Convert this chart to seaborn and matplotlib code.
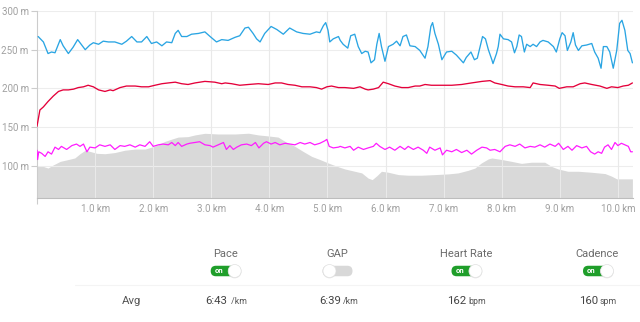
import matplotlib
matplotlib.use("Agg")
import matplotlib.pyplot as plt
import seaborn as sns
import pandas as pd
from matplotlib.patches import FancyBboxPatch, Circle

# ---------------- data ----------------
pace_km = [0.02, 0.11, 0.19, 0.25, 0.31, 0.40, 0.45, 0.54, 0.62, 0.70, 0.77, 0.83, 0.91, 0.97,
           1.06, 1.14, 1.23, 1.34, 1.46, 1.54, 1.63, 1.72, 1.80, 1.89, 1.97, 2.06, 2.15, 2.23,
           2.32, 2.38, 2.43, 2.49, 2.58,
           2.66, 2.78, 2.89, 2.98, 3.09, 3.18, 3.29, 3.41, 3.49, 3.58, 3.64, 3.72, 3.78, 3.84,
           3.92, 4.03, 4.13, 4.24, 4.35, 4.47, 4.58, 4.70, 4.81, 4.87, 4.93, 4.97, 5.01, 5.04,
           5.10, 5.19,
           5.22, 5.27, 5.35, 5.40, 5.47, 5.53, 5.59, 5.65, 5.70, 5.75, 5.81, 5.85, 5.89, 5.93,
           5.99, 6.05, 6.13, 6.19, 6.25, 6.30, 6.36, 6.42, 6.51, 6.59, 6.68, 6.73, 6.78, 6.81,
           6.85, 6.91, 6.97, 7.05, 7.14, 7.22, 7.34, 7.39, 7.47, 7.53, 7.58, 7.67, 7.72,
           7.77, 7.83, 7.85, 7.91, 7.94, 7.97, 8.03, 8.11, 8.17, 8.22, 8.26, 8.30, 8.34, 8.39,
           8.43, 8.49, 8.54, 8.60, 8.66, 8.71, 8.80, 8.89, 8.94, 9.00, 9.04, 9.09, 9.13, 9.19,
           9.23, 9.27, 9.32, 9.38, 9.46, 9.55, 9.60, 9.66, 9.71, 9.75, 9.81, 9.86, 9.92, 9.98,
           10.03, 10.07, 10.12, 10.17, 10.21, 10.25]
pace_val = [267, 260, 245, 247, 246, 263, 255, 245, 253, 263, 256, 250, 256, 259,
            257, 261, 260, 260, 257, 261, 267, 260, 260, 267, 258, 260, 255, 260,
            259, 271, 275, 267, 267,
            270, 271, 273, 267, 260, 263, 262, 266, 268, 278, 279, 271, 264, 260,
            271, 280, 276, 270, 278, 273, 271, 270, 273, 272, 281, 285, 275, 260,
            264, 267,
            262, 257, 252, 268, 270, 254, 245, 248, 247, 233, 237, 257, 271, 254,
            235, 254, 257, 261, 255, 267, 269, 255, 254, 249, 239, 254, 280, 285,
            271, 257, 237, 247, 248, 243, 233, 240, 247, 237, 239, 267, 264,
            250, 237, 232, 245, 254, 270, 264, 263, 260, 246, 254, 269, 267, 247,
            257, 254, 257, 254, 260, 262, 260, 254, 247, 264, 272, 268, 249, 260,
            272, 256, 249, 255, 256, 258, 247, 239, 226, 254, 254, 247, 226, 249,
            284, 288, 275, 249, 245, 233]

hr_km = [0.0, 0.05, 0.11, 0.19, 0.28, 0.37, 0.45, 0.54, 0.63, 0.71, 0.80, 0.88, 0.97, 1.06,
         1.17, 1.26, 1.31, 1.43, 1.54, 1.69, 1.80, 1.92, 2.03, 2.15, 2.26, 2.38, 2.49, 2.60,
         2.72, 2.89, 3.06, 3.18, 3.24, 3.35, 3.49, 3.64, 3.81, 3.98, 4.10, 4.21, 4.32, 4.44,
         4.56, 4.70, 4.81, 4.90, 4.99, 5.07, 5.19,
         5.30, 5.45, 5.56, 5.65, 5.70, 5.79, 5.88, 5.96, 6.05, 6.16, 6.28, 6.39, 6.51, 6.59,
         6.68, 6.79, 6.96, 7.14, 7.31, 7.48, 7.66,
         7.80, 7.88, 8.00, 8.11, 8.23, 8.37, 8.49, 8.54, 8.66, 8.80, 8.92, 8.99, 9.12, 9.23,
         9.35, 9.43, 9.55, 9.69, 9.81, 9.89, 10.00, 10.09, 10.18, 10.25]
hr_val = [151, 172, 176, 183, 190, 196, 198, 198, 199, 201, 202, 204, 202, 198,
          196, 198, 197, 201, 203, 203, 202, 202, 204, 206, 207, 208, 206, 205,
          207, 209, 208, 206, 207, 206, 204, 205, 206, 205, 207, 207, 205, 204,
          202, 202, 201, 199, 202, 203, 201,
          201, 200, 202, 199, 198, 199, 201, 208, 206, 203, 201, 201, 203, 203,
          205, 204, 204, 204, 205, 207, 209,
          210, 207, 205, 203, 202, 202, 201, 207, 205, 204, 203, 200, 202, 202,
          206, 207, 205, 203, 200, 202, 201, 203, 204, 207]

cad_km = [0.0, 0.01, 0.03, 0.08, 0.14, 0.19, 0.25, 0.31, 0.37, 0.42, 0.51, 0.60, 0.68, 0.74,
          0.80, 0.86, 0.91, 1.00, 1.08, 1.17, 1.26, 1.34, 1.43, 1.51, 1.60, 1.69, 1.77,
          1.86, 1.94, 2.00, 2.09, 2.17, 2.26, 2.32, 2.38, 2.43, 2.49, 2.58,
          2.63, 2.72, 2.80, 2.89, 2.98, 3.03, 3.12, 3.21, 3.26, 3.32, 3.38, 3.44, 3.52,
          3.61, 3.69, 3.76, 3.82, 3.90, 3.95, 4.03, 4.10, 4.18, 4.27, 4.35, 4.44, 4.53,
          4.61, 4.70, 4.78, 4.87, 4.95, 4.99, 5.03, 5.10, 5.19,
          5.22, 5.30, 5.39, 5.45, 5.53, 5.62, 5.70, 5.79, 5.84, 5.90, 5.99, 6.07, 6.16,
          6.25, 6.33, 6.39, 6.48, 6.56, 6.65, 6.71, 6.76, 6.85, 6.94, 6.98, 7.05, 7.14,
          7.22, 7.31, 7.40, 7.48, 7.57, 7.66, 7.74,
          7.80, 7.88, 7.97, 8.06, 8.14, 8.23, 8.31, 8.40, 8.49, 8.57, 8.66, 8.74, 8.83,
          8.92, 8.98, 9.06, 9.14, 9.21, 9.29, 9.38, 9.46, 9.53, 9.60, 9.66, 9.72, 9.77,
          9.83, 9.89, 9.95, 10.00, 10.06, 10.12, 10.18, 10.22, 10.25]
cad_val = [120, 108, 118, 116, 112, 118, 115, 124, 121, 125, 121, 126, 128, 125,
           128, 118, 124, 123, 127, 125, 127, 121, 126, 125, 127, 124, 127,
           125, 131, 125, 127, 128, 127, 130, 126, 130, 125, 128,
           129, 130, 131, 127, 126, 124, 127, 130, 121, 126, 121, 124, 127,
           128, 126, 130, 123, 129, 131, 128, 130, 127, 129, 128, 127, 130,
           128, 130, 127, 129, 132, 134, 125, 123, 124,
           125, 123, 125, 120, 124, 121, 123, 125, 129, 125, 121, 124, 120,
           125, 121, 125, 121, 124, 120, 116, 124, 120, 123, 114, 120, 118,
           121, 117, 120, 115, 120, 124, 123,
           120, 121, 118, 125, 127, 125, 128, 123, 125, 124, 127, 124, 128,
           125, 129, 121, 125, 120, 126, 123, 125, 118, 115, 118, 116, 124,
           127, 121, 130, 126, 129, 127, 125, 118, 118]

elev_km = [0.0, 0.11, 0.19, 0.28, 0.40, 0.54, 0.65, 0.74, 0.83, 0.91, 1.03, 1.17, 1.34, 1.51,
           1.69, 1.86, 1.97, 2.09, 2.20, 2.32, 2.43, 2.60, 2.72, 2.89, 3.12, 3.41, 3.64, 3.81,
           3.98, 4.15, 4.27, 4.44, 4.58, 4.73, 4.87, 5.01, 5.19, 5.30, 5.47, 5.59, 5.70, 5.77,
           5.85, 5.93, 6.05, 6.22, 6.39, 6.62, 6.85, 7.08, 7.25, 7.42, 7.54, 7.65, 7.77, 7.83,
           8.00, 8.17, 8.34, 8.51, 8.74, 8.86, 8.97, 9.14, 9.32, 9.55, 9.78, 9.89, 9.98, 10.12,
           10.25]
elev_val = [100, 99, 97, 101, 105.6, 108, 110, 115.5, 120, 118.5, 116, 115.5, 117, 120,
            121.5, 121.5, 124, 127, 131.4, 134.4, 137, 137.6, 139.8, 141.9, 141, 141, 142, 139.8,
            138.5, 137, 131.4, 125, 118.5, 112, 108, 103.6, 98.5, 95.8, 92.8, 90.7, 84, 82,
            87, 92.8, 91.5, 88.5, 87.7, 87.7, 88.5, 89.4, 90.7, 94, 97, 103.6, 108.8, 110,
            108, 105.6, 103, 104.5, 104.5, 99, 95.8, 92.8, 92.8, 91.5, 89.8, 86.5, 83, 83,
            83]

y_ticks = [100, 150, 200, 250, 300]
y_tick_labels = ["100 m", "150 m", "200 m", "250 m", "300 m"]
x_ticks = [1, 2, 3, 4, 5, 6, 7, 8, 9, 10]
x_tick_labels = ["1.0 km", "2.0 km", "3.0 km", "4.0 km", "5.0 km",
                 "6.0 km", "7.0 km", "8.0 km", "9.0 km", "10.0 km"]

metrics = ["Pace", "GAP", "Heart Rate", "Cadence"]
metric_on = [True, False, True, True]
avg_numbers = ["6:43", "6:39", "162", "160"]
avg_units = [" /km", "/km", "bpm", "spm"]

# ---------------- style ----------------
sns.set_style("white")
plt.rcParams["font.family"] = ["Roboto", "DejaVu Sans"]

W, H = 640, 322
fig = plt.figure(figsize=(W / 100, H / 100), dpi=100)
ax = fig.add_axes([37 / W, 1 - 197.5 / H, (633 - 37) / W, (197.5 - 11) / H])

# elevation area
ax.fill_between(elev_km, elev_val, 58.9, color="#d9d9d9", lw=0, zorder=1)

# grid
for v in y_ticks:
    ax.axhline(v, color="#ededed", lw=0.8, zorder=2)
for v in x_ticks:
    ax.axvline(v, color="#e9e9e9", lw=0.8, zorder=2)

pace_df = pd.DataFrame({"km": pace_km, "v": pace_val})
hr_df = pd.DataFrame({"km": hr_km, "v": hr_val})
cad_df = pd.DataFrame({"km": cad_km, "v": cad_val})

sns.lineplot(data=pace_df, x="km", y="v", ax=ax, color="#2aa5e3", lw=0.95, zorder=4,
             estimator=None, sort=False)
sns.lineplot(data=hr_df, x="km", y="v", ax=ax, color="#e4003a", lw=0.95, zorder=4,
             estimator=None, sort=False)
sns.lineplot(data=cad_df, x="km", y="v", ax=ax, color="#ff1cff", lw=0.9, zorder=4,
             estimator=None, sort=False)

ax.set_xlim(0, 10.26)
ax.set_ylim(58.9, 300)
ax.set_xlabel("")
ax.set_ylabel("")
ax.set_yticks(y_ticks)
ax.set_yticklabels(y_tick_labels)
ax.set_xticks(x_ticks)
ax.set_xticklabels(x_tick_labels)
ax.set_xticks([0], minor=True)
ax.tick_params(axis="y", length=4, width=0.8, color="#cccccc", labelcolor="#a0a0a0",
               labelsize=7.0, pad=2, left=True)
ax.tick_params(axis="x", which="major", length=0, labelcolor="#a0a0a0", labelsize=7.0, pad=5)
ax.tick_params(axis="x", which="minor", length=4, width=0.8, color="#cccccc", bottom=True)
for s in ["top", "right"]:
    ax.spines[s].set_visible(False)
ax.spines["left"].set_color("#cccccc")
ax.spines["bottom"].set_color("#bdbdbd")
ax.spines["left"].set_linewidth(0.8)
ax.spines["bottom"].set_linewidth(0.8)

# ---------------- bottom table (overlay in pixel coords) ----------------
ov = fig.add_axes([0, 0, 1, 1], zorder=5)
ov.set_xlim(0, W)
ov.set_ylim(H, 0)
ov.axis("off")

centers = [225, 337, 466, 597]
pill_left = [210.7, 322.5, 451.5, 583]
num_right = [227.5, 341, 466.5, 598.5]
for i, name in enumerate(metrics):
    ov.text(centers[i], 254, name, ha="center", va="center", fontsize=8.0, color="#6b6b6b")
    x0 = pill_left[i]
    w, h = 30, 10.5
    y0 = 271 - h / 2
    if metric_on[i]:
        pill = FancyBboxPatch((x0, y0), w, h, boxstyle="round,pad=0,rounding_size=5.2",
                              fc="#1f9e2a", ec="none")
        ov.add_patch(pill)
        ov.text(x0 + 8.5, 270.6, "on", ha="center", va="center", fontsize=5.6,
                color="white", fontweight="bold")
        kx = x0 + w - 6
    else:
        pill = FancyBboxPatch((x0, y0), w, h, boxstyle="round,pad=0,rounding_size=5.2",
                              fc="#d8d8d8", ec="none")
        ov.add_patch(pill)
        kx = x0 + 7
    ov.add_patch(Circle((kx, 271.5), 6.8, fc="#d0d0d0", ec="none", alpha=0.6))
    ov.add_patch(Circle((kx, 271), 6.5, fc="white", ec="#e2e2e2", lw=0.5))
    ov.text(num_right[i], 300.5, avg_numbers[i], ha="right", va="center", fontsize=8.2,
            color="#444444")
    ov.text(num_right[i] + 1.5, 301, avg_units[i], ha="left", va="center", fontsize=6.3,
            color="#555555")

ov.plot([75, 640], [284.5, 284.5], color="#f4f4f4", lw=0.8)
ov.text(122, 300.5, "Avg", ha="left", va="center", fontsize=8.2, color="#555555")

fig.savefig("out.png", dpi=100)
